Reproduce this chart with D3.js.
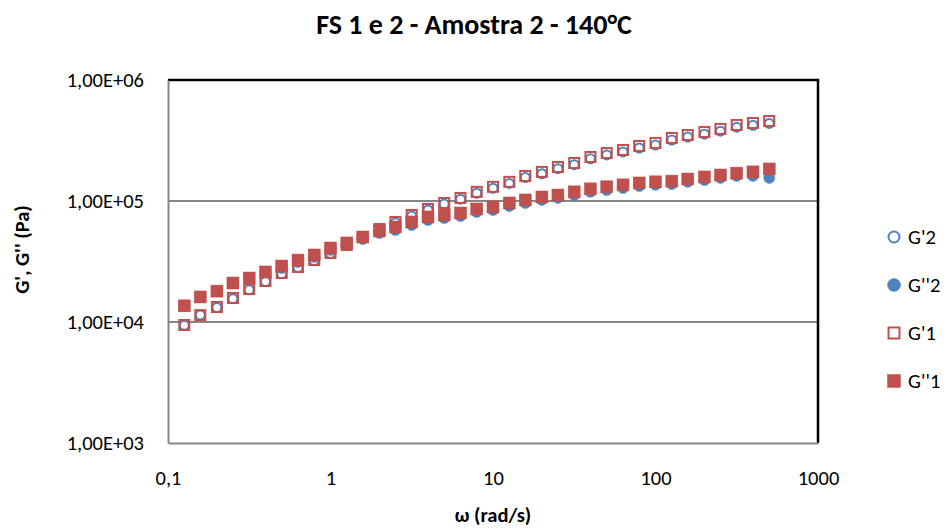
<!DOCTYPE html>
<html>
<head>
<meta charset="utf-8">
<script src="https://cdn.jsdelivr.net/npm/d3@7.9.0/dist/d3.min.js"></script>
<style>
  body { margin: 0; background: #fff; }
  svg { display: block; font-family: Calibri, Carlito, Lato, sans-serif; }
</style>
</head>
<body>
<svg id="chart" width="952" height="531"></svg>
<script>
// ========== data ==========
const omega = [0.126, 0.158, 0.2, 0.251, 0.316, 0.398, 0.501, 0.631, 0.794, 1,
  1.26, 1.58, 2, 2.51, 3.16, 3.98, 5.01, 6.31, 7.94, 10,
  12.6, 15.8, 20, 25.1, 31.6, 39.8, 50.1, 63.1, 79.4, 100,
  126, 158, 200, 251, 316, 398, 501];

const gPrime2 = [9400, 11400, 13200, 15600, 18500, 21600, 25100, 28200, 32200, 36800,
  42900, 49900, 58000, 66000, 75200, 84300, 94300, 103500, 115900, 127200,
  139800, 156200, 168000, 184900, 199400, 223000, 240500, 254500, 274200, 290000,
  318900, 337600, 356700, 377400, 407100, 422300, 437800];

const gDouble2 = [13600, 16100, 18000, 21000, 23100, 25900, 27900, 31300, 34500, 39400,
  43300, 48500, 54400, 57600, 63300, 69600, 72300, 75100, 81100, 84200,
  90900, 96200, 102000, 106000, 112000, 119000, 123000, 128000, 133000, 136000,
  138000, 144000, 149000, 155000, 161000, 161000, 155000];

const gPrime1 = [9450, 11400, 13300, 15800, 18700, 21800, 25400, 28500, 32500, 37200,
  43300, 50400, 58700, 67100, 76600, 85900, 96300, 106000, 119000, 131000,
  144000, 161000, 174000, 191000, 206000, 231000, 249000, 264000, 285000, 302000,
  332000, 351000, 372000, 394000, 425000, 441000, 458000];

const gDouble1 = [13600, 16100, 18000, 21000, 23100, 25900, 29000, 32500, 35800, 40900,
  45000, 50400, 56500, 61000, 67100, 73800, 76600, 79600, 85900, 89200,
  96300, 102000, 108000, 112000, 119000, 126000, 131000, 136000, 141000, 144000,
  146000, 152000, 158000, 164000, 170000, 174000, 184000];

const xTicks = [0.1, 1, 10, 100, 1000];
const xTickLabels = ['0,1', '1', '10', '100', '1000'];
const yTicks = [1e3, 1e4, 1e5, 1e6];
const yTickLabels = ['1,00E+03', '1,00E+04', '1,00E+05', '1,00E+06'];
const gridValues = [1e4, 1e5];

const titleText = 'FS 1 e 2 - Amostra 2 - 140°C';
const xTitle = 'ω (rad/s)';
const yTitle = "G', G'' (Pa)";

// ========== layout ==========
const BLUE = '#4F81BD';
const RED = '#C0504D';
const AXIS_GRAY = '#868686';
const LABEL_SIZE = '20.5px';
const plot = { left: 168, right: 818, top: 80, bottom: 443 };

const svg = d3.select('#chart');

const x = d3.scaleLog().domain([0.1, 1000]).range([plot.left, plot.right]);
const y = d3.scaleLog().domain([1e3, 1e6]).range([plot.bottom, plot.top]);

// 系列（绘制顺序和 Excel 一样：先蓝后红）
const series = [
  { name: "G'2", values: gPrime2, shape: 'circle', filled: false, color: BLUE },
  { name: "G''2", values: gDouble2, shape: 'circle', filled: true, color: BLUE },
  { name: "G'1", values: gPrime1, shape: 'square', filled: false, color: RED },
  { name: "G''1", values: gDouble1, shape: 'square', filled: true, color: RED },
];

// ---------- gridlines ----------
svg.append('g')
  .selectAll('line')
  .data(gridValues)
  .join('line')
  .attr('x1', plot.left)
  .attr('x2', plot.right)
  .attr('y1', (d) => y(d))
  .attr('y2', (d) => y(d))
  .attr('stroke', AXIS_GRAY)
  .attr('stroke-width', 2);

// ---------- plot border (top / right black) ----------
svg.append('path')
  .attr('d', `M${plot.left},${plot.top}H${plot.right}V${plot.bottom}`)
  .attr('fill', 'none')
  .attr('stroke', '#000')
  .attr('stroke-width', 2.5);

// ---------- axes ----------
const xAxis = d3.axisBottom(x)
  .tickValues(xTicks)
  .tickFormat((d, i) => xTickLabels[i])
  .tickSize(0)
  .tickPadding(27);

const yAxis = d3.axisLeft(y)
  .tickValues(yTicks)
  .tickFormat((d, i) => yTickLabels[i])
  .tickSize(0)
  .tickPadding(24);

const gx = svg.append('g')
  .attr('transform', `translate(0,${plot.bottom})`)
  .call(xAxis);

const gy = svg.append('g')
  .attr('transform', `translate(${plot.left},0)`)
  .call(yAxis);

[gx, gy].forEach((g) => {
  g.select('.domain').attr('stroke', AXIS_GRAY).attr('stroke-width', 2);
  g.selectAll('text')
    .attr('fill', '#000')
    .style('font-size', LABEL_SIZE)
    .style('font-family', 'Calibri, Carlito, Lato, sans-serif');
});

// ---------- markers ----------
function drawMarker(sel, s, size) {
  if (s.shape === 'circle') {
    sel.append('circle')
      .attr('r', size / 2 - (s.filled ? 0 : 1))
      .attr('fill', s.filled ? s.color : '#fff')
      .attr('stroke', s.color)
      .attr('stroke-width', s.filled ? 0.5 : 2);
  } else {
    const h = size / 2 - (s.filled ? 0 : 1);
    sel.append('rect')
      .attr('x', -h)
      .attr('y', -h)
      .attr('width', h * 2)
      .attr('height', h * 2)
      .attr('fill', s.filled ? s.color : 'none')
      .attr('stroke', s.color)
      .attr('stroke-width', s.filled ? 0.5 : 2);
  }
}

series.forEach((s) => {
  const pts = svg.append('g')
    .selectAll('g')
    .data(s.values.map((v, i) => ({ w: omega[i], v })))
    .join('g')
    .attr('transform', (d) => `translate(${x(d.w)},${y(d.v)})`);
  pts.each(function () {
    drawMarker(d3.select(this), s, s.shape === 'circle' ? 11 : 12);
  });
});

// ---------- titles ----------
svg.append('text')
  .attr('x', 474)
  .attr('y', 34)
  .attr('text-anchor', 'middle')
  .style('font-size', '28px')
  .style('font-weight', 'bold')
  .text(titleText);

svg.append('text')
  .attr('x', (plot.left + plot.right) / 2)
  .attr('y', 522)
  .attr('text-anchor', 'middle')
  .style('font-size', LABEL_SIZE)
  .style('font-weight', 'bold')
  .text(xTitle);

svg.append('text')
  .attr('transform', `translate(29,${(plot.top + plot.bottom) / 2 - 12}) rotate(-90)`)
  .attr('text-anchor', 'middle')
  .style('font-size', LABEL_SIZE)
  .style('font-weight', 'bold')
  .text(yTitle);

// ---------- legend ----------
const legend = svg.append('g')
  .selectAll('g')
  .data(series)
  .join('g')
  .attr('transform', (d, i) => `translate(894,${237 + i * 48})`);

legend.each(function (s) {
  drawMarker(d3.select(this), s, 13);
});

legend.append('text')
  .attr('x', 14)
  .attr('y', 7)
  .style('font-size', LABEL_SIZE)
  .text((d) => d.name);
</script>
</body>
</html>
